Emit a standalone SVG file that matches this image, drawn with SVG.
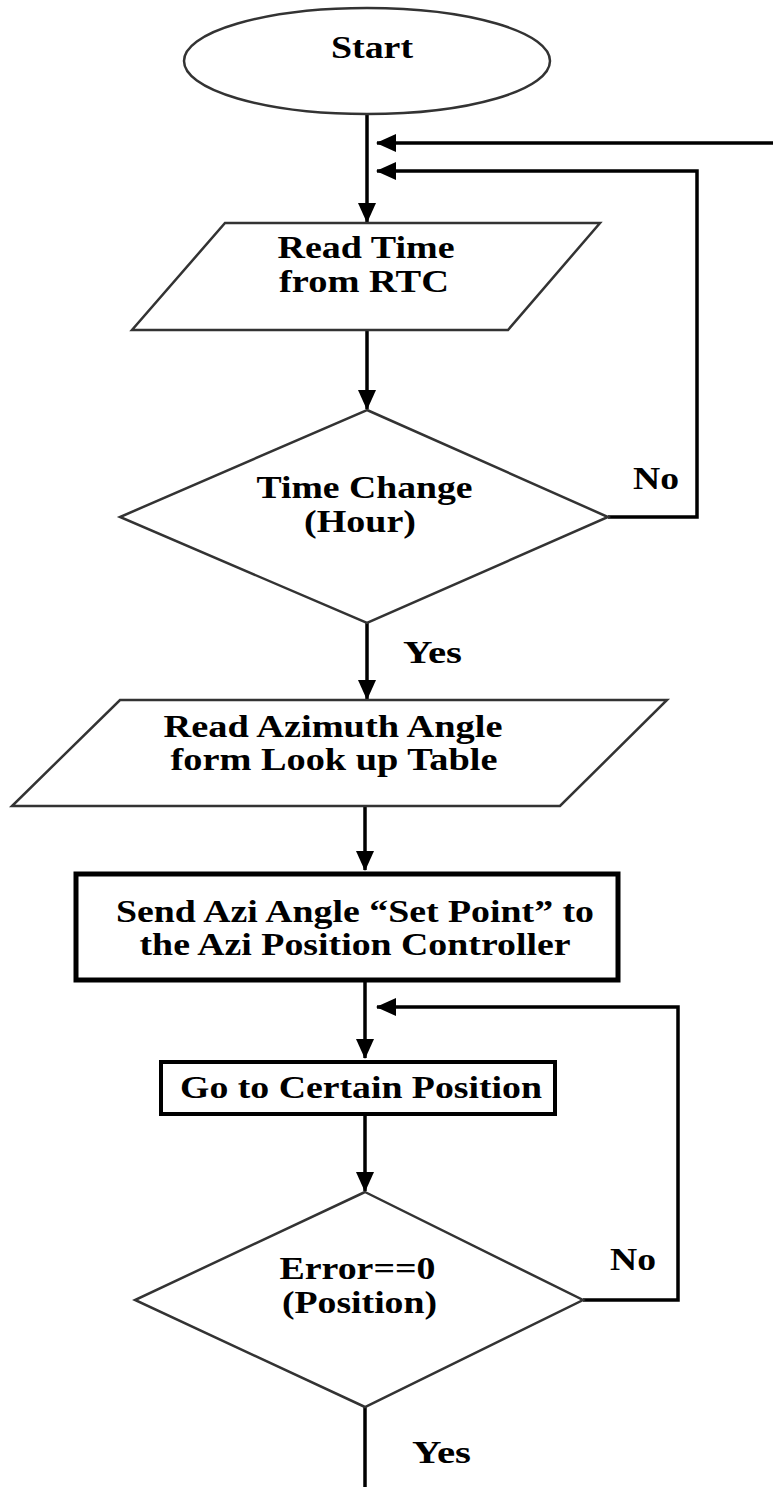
<svg xmlns="http://www.w3.org/2000/svg" width="773" height="1487" viewBox="0 0 773 1487">
<defs>
<marker id="ah" markerUnits="userSpaceOnUse" markerWidth="20" markerHeight="18" refX="19" refY="9" orient="auto">
<path d="M0,0 L20,9 L0,18 z" fill="#000"/>
</marker>
<style>
.shape{fill:#fff;stroke:#333;stroke-width:2.5}
.conn{fill:none;stroke:#000;stroke-width:3.5}
.t{font-family:"Liberation Serif","Times New Roman",serif;font-weight:bold;font-size:32px;fill:#000;text-anchor:middle}
.l{font-family:"Liberation Serif","Times New Roman",serif;font-weight:bold;font-size:32px;fill:#000}
</style>
</defs>
<rect width="773" height="1487" fill="#fff"/>
<g id="connectors">
<path class="conn" d="M367,115 L367,222" marker-end="url(#ah)"/>
<path class="conn" d="M773,143 L377,143" marker-end="url(#ah)" stroke="#444"/>
<path class="conn" d="M608,517 L697,517 L697,171 L377,171" marker-end="url(#ah)"/>
<path class="conn" d="M367,330 L367,409" marker-end="url(#ah)"/>
<path class="conn" d="M367,623 L367,699" marker-end="url(#ah)"/>
<path class="conn" d="M365,806 L365,870" marker-end="url(#ah)"/>
<path class="conn" d="M365,982 L365,1058" marker-end="url(#ah)"/>
<path class="conn" d="M583,1300 L678,1300 L678,1007 L377,1007" marker-end="url(#ah)"/>
<path class="conn" d="M365,1114 L365,1191" marker-end="url(#ah)"/>
<path class="conn" d="M365,1405 L365,1487"/>
<text class="l" x="633" y="489" textLength="46" lengthAdjust="spacingAndGlyphs">No</text>
<text class="l" x="403" y="663" textLength="59" lengthAdjust="spacingAndGlyphs">Yes</text>
<text class="l" x="610" y="1270" textLength="46" lengthAdjust="spacingAndGlyphs">No</text>
<text class="l" x="412" y="1463" textLength="59" lengthAdjust="spacingAndGlyphs">Yes</text>
</g>
<g id="start">
<ellipse class="shape" cx="367" cy="61" rx="183" ry="53"/>
<text class="t" x="372" y="58" textLength="82" lengthAdjust="spacingAndGlyphs">Start</text>
</g>
<g id="read-time">
<polygon class="shape" points="225,223 600,223 508,330 132,330"/>
<text class="t" x="366" y="258" textLength="177" lengthAdjust="spacingAndGlyphs">Read Time</text>
<text class="t" x="364" y="292" textLength="170" lengthAdjust="spacingAndGlyphs">from RTC</text>
</g>
<g id="time-change">
<polygon class="shape" points="367,410 608,517 367,623 120,517"/>
<text class="t" x="364.5" y="498" textLength="216" lengthAdjust="spacingAndGlyphs">Time Change</text>
<text class="t" x="360" y="532" textLength="112" lengthAdjust="spacingAndGlyphs">(Hour)</text>
</g>
<g id="read-azimuth">
<polygon class="shape" points="120,700 667,700 560,806 12,806"/>
<text class="t" x="333" y="737" textLength="339" lengthAdjust="spacingAndGlyphs">Read Azimuth Angle</text>
<text class="t" x="334" y="770" textLength="327" lengthAdjust="spacingAndGlyphs">form Look up Table</text>
</g>
<g id="send-setpoint">
<rect x="76" y="874" width="542" height="106" fill="#fff" stroke="#000" stroke-width="5"/>
<text class="t" x="355" y="922" textLength="478" lengthAdjust="spacingAndGlyphs">Send Azi Angle “Set Point” to</text>
<text class="t" x="355" y="955" textLength="431" lengthAdjust="spacingAndGlyphs">the Azi Position Controller</text>
</g>
<g id="go-position">
<rect x="161" y="1062" width="394" height="52" fill="#fff" stroke="#000" stroke-width="4"/>
<text class="t" x="361" y="1098" textLength="362" lengthAdjust="spacingAndGlyphs">Go to Certain Position</text>
</g>
<g id="error-check">
<polygon class="shape" points="365,1192 583,1300 365,1407 135,1300"/>
<text class="t" x="357.5" y="1279" textLength="156" lengthAdjust="spacingAndGlyphs">Error==0</text>
<text class="t" x="359.5" y="1313" textLength="155" lengthAdjust="spacingAndGlyphs">(Position)</text>
</g>
</svg>
